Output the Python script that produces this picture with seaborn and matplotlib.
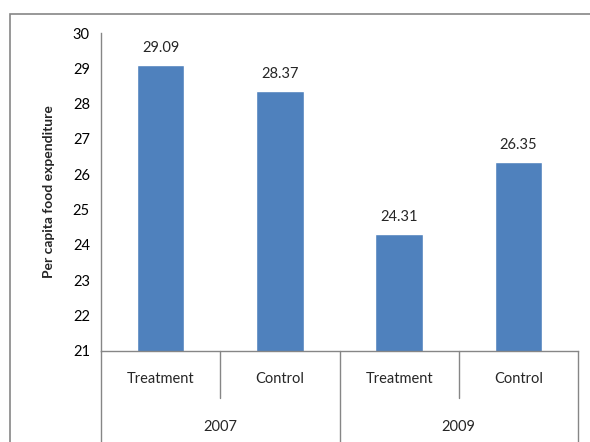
import matplotlib
matplotlib.use("Agg")
import matplotlib.pyplot as plt
import matplotlib.transforms as mtransforms
from matplotlib.patches import Rectangle
import pandas as pd
import seaborn as sns

# Data
years = ["2007", "2007", "2009", "2009"]
groups = ["Treatment", "Control", "Treatment", "Control"]
values = [29.09, 28.37, 24.31, 26.35]
y_ticks = [21, 22, 23, 24, 25, 26, 27, 28, 29, 30]

df = pd.DataFrame({"year": years, "group": groups, "value": values})
df["key"] = df["year"] + " " + df["group"]

sns.set_style("white")
plt.rcParams["font.family"] = ["Lato", "DejaVu Sans"]

axis_grey = "#868686"
bar_color = "#4F81BD"

fig = plt.figure(figsize=(5.9, 4.42), dpi=100)
ax = fig.add_axes([101 / 590, 1 - 351 / 442, 477 / 590, 318 / 442])

sns.barplot(data=df, x="key", y="value", order=list(df["key"]),
            color=bar_color, saturation=1, width=0.4, ax=ax, errorbar=None)

ax.set_ylim(21, 30)
ax.set_yticks(y_ticks)
ax.set_yticklabels([str(t) for t in y_ticks], fontsize=10.5)
ax.set_xlim(-0.5, len(df) - 0.5)
ax.set_xticks([])
ax.set_xlabel("")
ax.set_ylabel("Per capita food expenditure", fontsize=10, fontweight="bold",
              labelpad=13)

for side in ["top", "right"]:
    ax.spines[side].set_visible(False)
for side in ["left", "bottom"]:
    ax.spines[side].set_color(axis_grey)
    ax.spines[side].set_linewidth(1.0)
ax.tick_params(axis="y", direction="out", length=4, width=1, color=axis_grey,
               pad=4, labelcolor="black")

# Value labels above each bar
for i, v in enumerate(df["value"]):
    ax.annotate(f"{v:.2f}", xy=(i, v), xytext=(0, 7), textcoords="offset points",
                ha="center", va="bottom", fontsize=10.5)

# Two-level category axis below the plot
trans = mtransforms.blended_transform_factory(ax.transData, ax.transAxes)
px = 1 / 318  # one pixel in axes-height units
for i, g in enumerate(df["group"]):
    ax.text(i, -28 * px, g, transform=trans, ha="center", va="center", fontsize=10.5)

year_list = list(dict.fromkeys(df["year"]))
for j, yr in enumerate(year_list):
    idx = [i for i, y in enumerate(df["year"]) if y == yr]
    ax.text(sum(idx) / len(idx), -76 * px, yr, transform=trans,
            ha="center", va="center", fontsize=10.5)

n = len(df)
for k in range(n + 1):
    x = k - 0.5
    is_year_edge = k == 0 or k == n or df["year"].iloc[k - 1] != df["year"].iloc[k]
    y_end = -100 * px if is_year_edge else -47 * px
    ax.plot([x, x], [0, y_end], transform=trans, color=axis_grey, lw=1,
            clip_on=False)

# Chart area border
fig.patches.append(Rectangle((10 / 590, -0.2), 2, 1 - 14 / 442 + 0.2,
                             transform=fig.transFigure, fill=False,
                             edgecolor=axis_grey, lw=1.2))

fig.savefig("out.png", dpi=100)
